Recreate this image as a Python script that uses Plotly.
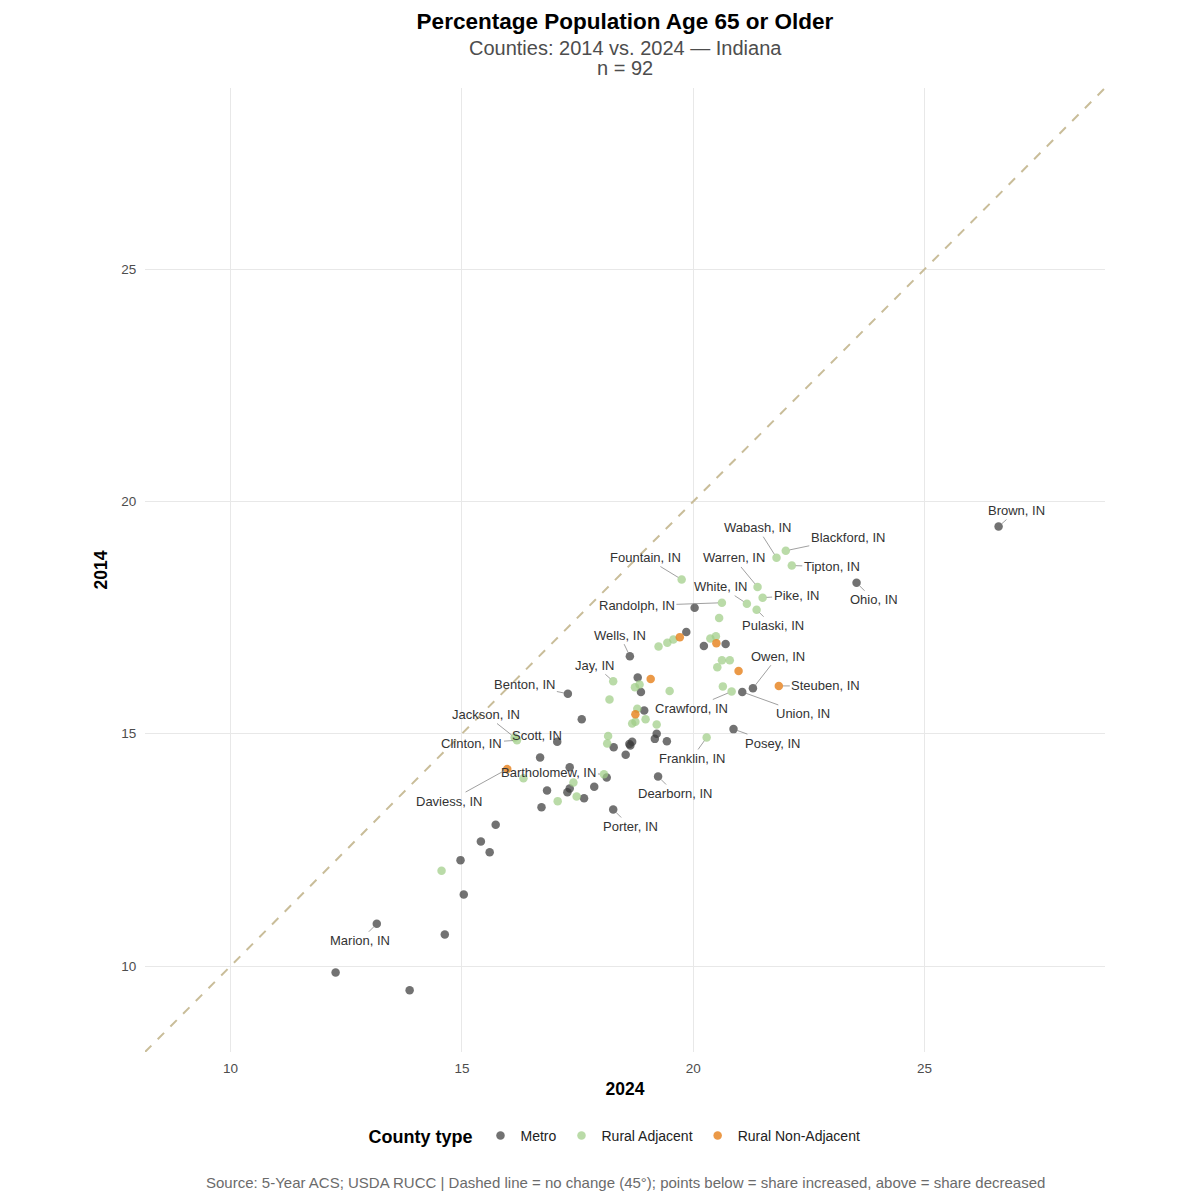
import plotly.graph_objects as go

# county type -> (2024 share, 2014 share, label)
metro_x = [26.60, 23.53, 20.03, 19.85, 18.63, 20.23, 20.70, 21.06, 21.29, 18.80,
           18.87, 17.29, 17.59, 18.94, 20.87, 19.21, 19.17, 19.43, 18.68, 18.64,
           18.62, 18.28, 18.54, 17.06, 16.69, 17.33, 18.13, 19.24, 16.84, 17.33,
           17.28, 17.64, 17.86, 16.72, 18.27, 15.73, 15.41, 15.60, 14.97, 15.04,
           13.16, 14.63, 12.27, 13.87]
metro_y = [19.46, 18.25, 17.71, 17.19, 16.67, 16.89, 16.93, 15.90, 15.98, 16.21,
           15.90, 15.86, 15.31, 15.50, 15.10, 15.00, 14.89, 14.84, 14.83, 14.75,
           14.78, 14.71, 14.55, 14.83, 14.49, 14.28, 14.06, 14.08, 13.78, 13.82,
           13.74, 13.61, 13.86, 13.42, 13.37, 13.04, 12.68, 12.45, 12.28, 11.54,
           10.91, 10.68, 9.86, 9.48]
metro_names = ["Brown, IN", "Ohio, IN", "", "", "Wells, IN", "", "", "Union, IN", "Owen, IN", "",
               "", "Benton, IN", "", "", "Posey, IN", "", "", "", "", "",
               "", "", "", "Scott, IN", "", "", "", "Dearborn, IN", "", "",
               "", "", "", "", "Porter, IN", "", "", "", "", "",
               "Marion, IN", "", "", ""]

radj_x = [21.80, 22.00, 22.13, 19.75, 21.39, 21.50, 21.16, 21.37, 20.62, 20.56,
          19.25, 19.44, 19.57, 20.37, 20.49, 20.62, 20.79, 20.52, 20.64, 20.83,
          18.27, 18.74, 18.84, 19.49, 18.19, 18.79, 18.97, 18.75, 18.68, 19.21,
          20.29, 18.16, 18.14, 16.14, 16.19, 16.33, 18.07, 17.41, 17.48, 17.07,
          14.56]
radj_y = [18.79, 18.94, 18.62, 18.32, 18.16, 17.93, 17.80, 17.67, 17.82, 17.49,
          16.88, 16.96, 17.03, 17.05, 17.10, 16.58, 16.58, 16.43, 16.02, 15.91,
          16.13, 16.00, 16.06, 15.92, 15.74, 15.54, 15.31, 15.26, 15.22, 15.20,
          14.92, 14.95, 14.79, 14.92, 14.86, 14.04, 14.13, 13.95, 13.65, 13.55,
          12.05]
radj_names = ["Wabash, IN", "Blackford, IN", "Tipton, IN", "Fountain, IN", "Warren, IN",
              "Pike, IN", "White, IN", "Pulaski, IN", "Randolph, IN", "",
              "", "", "", "", "", "", "", "", "", "Crawford, IN",
              "Jay, IN", "", "", "", "", "", "", "", "", "",
              "Franklin, IN", "", "", "Jackson, IN", "Clinton, IN", "", "Bartholomew, IN", "", "", "",
              ""]

rnon_x = [19.71, 20.50, 20.98, 21.85, 19.08, 18.75, 15.98]
rnon_y = [17.08, 16.95, 16.35, 16.03, 16.18, 15.42, 14.24]
rnon_names = ["", "", "", "Steuben, IN", "", "", "Daviess, IN"]

# label offsets in pixels (text centre relative to point)
offsets = {
    "Brown, IN": (18, -16), "Ohio, IN": (17, 17), "Blackford, IN": (62, -13),
    "Wabash, IN": (-19, -30), "Tipton, IN": (40, 1), "Fountain, IN": (-36, -22),
    "Warren, IN": (-24, -29), "White, IN": (-26, -17), "Pike, IN": (34, -2),
    "Pulaski, IN": (16, 16), "Randolph, IN": (-85, 3), "Wells, IN": (-10, -21),
    "Owen, IN": (25, -32), "Steuben, IN": (47, 0), "Jay, IN": (-18, -16),
    "Benton, IN": (-43, -9), "Crawford, IN": (-40, 17), "Union, IN": (61, 22),
    "Jackson, IN": (-29, -23), "Clinton, IN": (-45, 3), "Scott, IN": (-20, -6),
    "Posey, IN": (39, 14), "Franklin, IN": (-15, 21), "Bartholomew, IN": (-55, -2),
    "Daviess, IN": (-58, 32), "Dearborn, IN": (17, 17), "Porter, IN": (17, 17),
    "Marion, IN": (-17, 17),
}

lo, hi = 8.15, 28.9
font = "Liberation Sans, Arial, sans-serif"

fig = go.Figure()
fig.add_scatter(x=[lo, hi], y=[lo, hi], mode="lines", showlegend=False, hoverinfo="skip",
                line=dict(color="#c9bd99", width=2, dash="dash"))

series = [
    ("Metro", metro_x, metro_y, metro_names, "rgba(60,60,60,0.72)"),
    ("Rural Adjacent", radj_x, radj_y, radj_names, "rgba(160,205,135,0.72)"),
    ("Rural Non-Adjacent", rnon_x, rnon_y, rnon_names, "rgba(230,130,30,0.82)"),
]
for name, xs, ys, names, col in series:
    fig.add_scatter(x=xs, y=ys, mode="markers", name=name, text=names,
                    marker=dict(size=8.5, color=col, line=dict(width=0)))
    for xv, yv, lab in zip(xs, ys, names):
        if lab:
            ax, ay = offsets[lab]
            fig.add_annotation(x=xv, y=yv, text=lab, ax=ax, ay=ay, showarrow=True,
                               arrowhead=0, arrowwidth=0.8, arrowcolor="#888888",
                               standoff=4, font=dict(size=13, color="#333333"))

# subtitle lines
fig.add_annotation(text="Counties: 2014 vs. 2024 — Indiana", xref="paper", yref="paper",
                   x=0.5, y=1.0415, yanchor="middle", showarrow=False,
                   font=dict(size=20, color="#4d4d4d"))
fig.add_annotation(text="n = 92", xref="paper", yref="paper",
                   x=0.5, y=1.0207, yanchor="middle", showarrow=False,
                   font=dict(size=20, color="#4d4d4d"))

fig.add_annotation(text="Source: 5-Year ACS; USDA RUCC | Dashed line = no change (45°); points below = share increased, above = share decreased",
                   xref="paper", yref="paper", x=0.5, y=-0.135, yanchor="middle", showarrow=False,
                   font=dict(size=15, color="#6b6b6b"))

fig.update_layout(
    width=1184, height=1184,
    plot_bgcolor="white", paper_bgcolor="white",
    font=dict(family=font),
    margin=dict(l=137, r=87, t=80, b=140),
    title=dict(text="<b>Percentage Population Age 65 or Older</b>",
               x=0.5, xref="paper", y=1 - 13 / 1184, yanchor="middle",
               font=dict(size=22.5, color="black")),
    xaxis=dict(range=[lo, hi], tickvals=[10, 15, 20, 25], showgrid=True, gridcolor="#e8e8e8",
               gridwidth=1.3, zeroline=False, ticks="outside", ticklen=4,
               tickcolor="rgba(0,0,0,0)", tickfont=dict(size=13.5, color="#4d4d4d"),
               title=dict(text="<b>2024</b>", font=dict(size=17.5, color="black"), standoff=7)),
    yaxis=dict(range=[lo, hi], tickvals=[10, 15, 20, 25], showgrid=True, gridcolor="#e8e8e8",
               gridwidth=1.3, zeroline=False, ticks="outside", ticklen=5,
               tickcolor="rgba(0,0,0,0)", tickfont=dict(size=13.5, color="#4d4d4d"),
               title=dict(text="<b>2014</b>", font=dict(size=17.5, color="black"), standoff=9)),
    legend=dict(orientation="h", x=0.4906, xanchor="center", y=-0.088, yanchor="middle",
                title=dict(text="<b>County type</b>", font=dict(size=18, color="black")),
                font=dict(size=14, color="#222222"), itemsizing="trace"),
)

fig.write_html("out.html")
